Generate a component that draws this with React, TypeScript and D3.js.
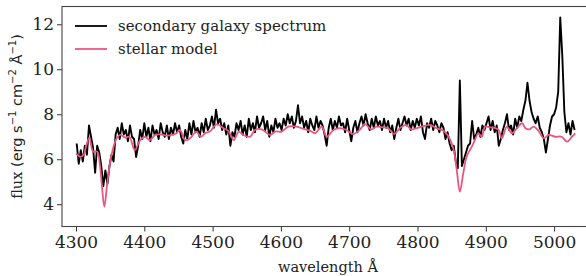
import React, { useRef, useEffect } from "react";
import * as d3 from "d3";

// observed spectrum, sampled every 3 Å from 4301 Å
const specStart = 4301;
const specStep = 3;
const specFlux = [
  6.7, 5.8, 6.4, 5.9, 6.6, 6.2, 7.5, 7.0, 6.5, 5.4,
  6.6, 6.3, 5.7, 4.8, 5.5, 4.9, 5.7, 6.2, 5.9, 7.1,
  7.4, 6.9, 7.6, 7.1, 7.3, 6.8, 7.5, 7.0, 6.9, 6.1,
  6.6, 7.3, 6.9, 7.6, 7.0, 7.4, 6.8, 7.5, 7.1, 7.3,
  6.9, 7.6, 7.2, 7.0, 7.5, 6.9, 7.4, 7.1, 7.6, 7.2,
  7.5, 7.0, 6.7, 7.3, 6.9, 7.6, 7.1, 7.7, 7.2, 7.4,
  7.0, 7.6, 7.2, 7.8, 7.3, 7.5, 7.9, 7.4, 8.2, 7.6,
  7.8, 7.3, 7.6, 7.1, 7.5, 6.6, 7.2, 7.0, 7.6, 7.3,
  7.7, 7.1, 7.5, 7.0, 7.8, 7.3, 7.6, 7.2, 7.9, 7.4,
  7.6, 7.9, 7.3, 7.7, 7.0, 7.5, 7.2, 7.8, 7.4, 7.6,
  7.3, 7.8, 7.5, 8.0, 7.6, 7.9, 7.4, 7.7, 8.4, 7.6,
  7.9, 7.4, 7.7, 7.2, 7.8, 7.5, 7.3, 7.9, 7.4, 7.7,
  7.5, 7.1, 6.6, 7.4, 7.8, 7.3, 7.7, 7.4, 7.9, 7.5,
  7.6, 7.2, 7.8, 7.3, 6.8, 7.4, 7.7, 7.2, 7.6, 7.9,
  7.5, 8.0, 7.6, 7.3, 7.8, 7.4, 7.9, 7.5, 7.7, 7.3,
  7.8, 7.4, 7.7, 7.2, 7.5, 6.9, 7.4, 7.8, 7.3, 7.6,
  7.9, 7.5, 7.8, 7.3, 7.7, 7.4, 7.8, 7.5, 7.9, 7.2,
  6.9, 7.6, 7.4, 7.8, 7.3, 7.7, 7.5, 7.2, 7.6, 7.4,
  6.9, 7.2, 6.7, 6.4, 6.6, 5.9, 5.6, 9.5, 5.7, 6.0,
  6.3, 6.6, 6.7, 7.7, 6.9, 7.1, 7.4, 7.0, 7.5, 7.3,
  7.6, 7.9, 7.3, 7.7, 7.2, 7.5, 6.6, 6.9, 7.3, 7.6,
  8.0, 7.3, 7.5, 7.1, 7.8, 7.4, 7.9, 7.7, 8.2, 8.6,
  9.4, 8.6, 8.1, 7.8, 7.6, 7.9, 7.4, 7.2, 6.9, 6.3,
  6.9, 7.5, 7.9, 8.0, 8.3, 9.0, 12.3, 10.6, 8.1, 7.2,
  7.6, 7.1, 7.7, 7.3,
];

// stellar model
const modelWave = [
  4300, 4306, 4311, 4315, 4319.5, 4325, 4331, 4335, 4338, 4341.5,
  4346, 4352, 4359.5, 4365, 4372, 4378, 4386, 4394, 4401, 4408,
  4416, 4425, 4433, 4440, 4447, 4452, 4460, 4467, 4476, 4483,
  4489, 4496, 4506, 4516, 4523, 4531, 4538, 4545, 4555, 4562,
  4572, 4584, 4592, 4601, 4611, 4623, 4633, 4643, 4650, 4660,
  4667, 4677, 4686, 4696, 4706, 4716, 4723, 4732, 4740, 4748,
  4757, 4766, 4774, 4783, 4791, 4799, 4809, 4818, 4828, 4838,
  4845, 4853, 4857.5, 4862, 4867, 4872, 4879.5, 4884, 4889, 4894,
  4899, 4906, 4914, 4919, 4923.5, 4931, 4938, 4945.5, 4953, 4958,
  4964, 4970, 4977, 4985, 4992, 5002, 5011, 5019, 5026, 5031,
];
const modelFlux = [
  6.25, 6.12, 6.19, 6.6, 6.96, 6.34, 6.34, 5.75, 4.8, 3.89,
  5.0, 6.19, 6.93, 7.08, 6.96, 7.0, 6.41, 6.85, 7.0, 6.85,
  7.08, 7.1, 7.05, 7.08, 7.16, 7.3, 6.85, 6.93, 7.23, 7.0,
  7.16, 7.23, 7.55, 7.38, 7.26, 6.85, 7.23, 7.08, 7.0, 7.3,
  7.33, 7.08, 7.23, 7.23, 7.45, 7.45, 7.35, 7.26, 7.16, 7.45,
  7.0, 7.3, 7.38, 7.3, 7.12, 7.33, 7.57, 7.33, 7.45, 7.42,
  7.38, 7.12, 7.38, 7.53, 7.33, 7.38, 7.48, 7.53, 7.38, 7.27,
  7.03, 6.41, 5.52, 4.56, 5.37, 6.12, 6.56, 6.85, 7.15, 7.0,
  7.45, 7.42, 7.38, 7.3, 6.93, 7.45, 7.15, 7.38, 7.6, 7.38,
  7.33, 7.45, 7.27, 6.93, 7.08, 7.0, 7.0, 6.78, 7.0, 7.15,
];

const xTicks = [4300, 4400, 4500, 4600, 4700, 4800, 4900, 5000];
const yTicks = [4, 6, 8, 10, 12];
const seriesNames = ["secondary galaxy spectrum", "stellar model"];
const seriesColors = ["#000000", "#ea5580"];

const W = 586, H = 276;
const serif = "'DejaVu Serif', serif";
const sans = "'DejaVu Sans', sans-serif";

export default function App() {
  const svgRef = useRef<SVGSVGElement>(null);

  useEffect(() => {
    const svg = d3.select(svgRef.current);
    svg.selectAll("*").remove();

    const left = 62, right = 600, top = 6.5, bottom = 226.5;
    const x = d3.scaleLinear().domain([4279.5, 4279.5 + (right - left) / 0.683]).range([left, right]);
    const y = d3.scaleLinear().domain([3.01, 12.79]).range([bottom, top]);

    svg.append("defs").append("clipPath").attr("id", "plot-clip")
      .append("rect").attr("x", left).attr("y", top).attr("width", right - left).attr("height", bottom - top);

    const spec = specFlux.map((f, i) => [specStart + i * specStep, f] as [number, number]);
    const model = modelWave.map((w, i) => [w, modelFlux[i]] as [number, number]);

    const line = d3.line<[number, number]>().x(d => x(d[0])).y(d => y(d[1]));
    const smooth = d3.line<[number, number]>().x(d => x(d[0])).y(d => y(d[1])).curve(d3.curveCatmullRom);

    const plot = svg.append("g").attr("clip-path", "url(#plot-clip)");
    plot.append("path").attr("d", line(spec)).attr("fill", "none")
      .attr("stroke", seriesColors[0]).attr("stroke-width", 1.9).attr("stroke-linejoin", "round");
    plot.append("path").attr("d", smooth(model)).attr("fill", "none")
      .attr("stroke", seriesColors[1]).attr("stroke-width", 1.8).attr("stroke-linejoin", "round");

    // axes
    const xAxis = svg.append("g").attr("transform", `translate(0,${bottom})`)
      .call(d3.axisBottom(x).tickValues(xTicks).tickSize(5).tickPadding(4).tickFormat(d3.format("d")));
    const yAxis = svg.append("g").attr("transform", `translate(${left},0)`)
      .call(d3.axisLeft(y).tickValues(yTicks).tickSize(5).tickPadding(3).tickFormat(d3.format("d")));
    [xAxis, yAxis].forEach(a => {
      a.select(".domain").remove();
      a.selectAll(".tick line").attr("stroke", "#333").attr("stroke-width", 1);
      a.selectAll(".tick text").attr("fill", "#222").style("font-family", serif).style("font-size", "17px");
    });

    // frame
    svg.append("rect").attr("x", left).attr("y", top).attr("width", right - left).attr("height", bottom - top)
      .attr("fill", "none").attr("stroke", "#444").attr("stroke-width", 1.1);

    // axis labels
    svg.append("text").attr("x", (left + 554) / 2 + 20).attr("y", 272).attr("text-anchor", "middle")
      .style("font-family", serif).style("font-size", "14.5px").attr("fill", "#222").text("wavelength Å");

    const yl = svg.append("text").attr("transform", `translate(22,${(top + bottom) / 2}) rotate(-90)`)
      .attr("text-anchor", "middle").attr("fill", "#222").style("font-size", "14.5px");
    yl.append("tspan").style("font-family", serif).text("flux ");
    const unit = [["(erg s", ""], ["−1", "sup"], [" cm", ""], ["−2", "sup"], [" Å", ""], ["−1", "sup"], [")", ""]];
    unit.forEach(([t, k]) => {
      const ts = yl.append("tspan").style("font-family", sans).text(t);
      if (k === "sup") ts.attr("dy", -6).style("font-size", "10px");
      else if (t !== "(erg s") ts.attr("dy", 6);
    });

    // legend
    const lg = svg.append("g");
    seriesNames.forEach((name, i) => {
      const ly = 26 + i * 23;
      lg.append("line").attr("x1", 75).attr("x2", 107).attr("y1", ly).attr("y2", ly)
        .attr("stroke", seriesColors[i]).attr("stroke-width", 1.8);
      lg.append("text").attr("x", 118).attr("y", ly + 5).style("font-family", serif)
        .style("font-size", "15px").attr("fill", "#222").text(name);
    });
  }, []);

  return (
    <svg ref={svgRef} width={W} height={H}
      style={{ position: "absolute", left: 0, top: 0, background: "#fff", overflow: "hidden" }} />
  );
}
